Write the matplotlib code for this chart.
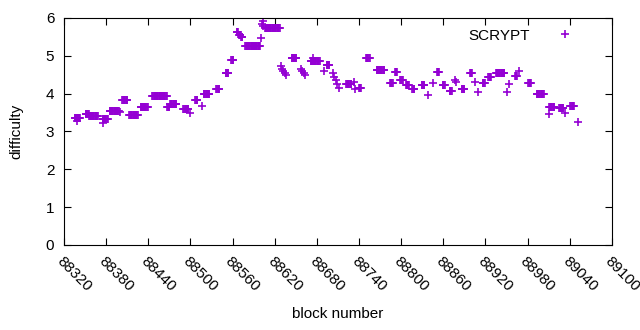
import numpy as np
import matplotlib
matplotlib.use("Agg")
import matplotlib.pyplot as plt

plt.rcParams["font.family"] = ["Liberation Sans", "DejaVu Sans"]

# difficulty stays constant over runs of blocks: (first block, last block, difficulty)
run_start = [88335, 88339, 88351, 88356, 88375, 88376, 88385, 88400, 88403, 88413, 88429,
             88446, 88467, 88471, 88490, 88499, 88507, 88516, 88519, 88537, 88550, 88558,
             88566, 88569, 88572, 88578, 88600, 88602, 88603, 88604, 88606, 88629, 88630,
             88632, 88634, 88636, 88644, 88657, 88659, 88661, 88663, 88671, 88674, 88690,
             88694, 88703, 88705, 88707, 88709, 88711, 88722, 88733, 88734, 88740, 88750,
             88765, 88784, 88791, 88799, 88807, 88816, 88829, 88838, 88845, 88851, 88859,
             88869, 88877, 88878, 88886, 88898, 88905, 88909, 88916, 88924, 88935, 88951,
             88953, 88962, 88968, 88981, 88993, 89010, 89011, 89025, 89033, 89041, 89052]
run_end = [88343, 88339, 88355, 88368, 88382, 88376, 88398, 88400, 88410, 88425, 88439,
           88466, 88470, 88480, 88497, 88499, 88510, 88516, 88527, 88541, 88554, 88561,
           88568, 88571, 88574, 88599, 88600, 88602, 88603, 88604, 88627, 88629, 88630,
           88632, 88634, 88636, 88651, 88657, 88659, 88661, 88663, 88684, 88674, 88690,
           88698, 88703, 88705, 88707, 88709, 88711, 88729, 88733, 88734, 88743, 88755,
           88776, 88788, 88794, 88802, 88811, 88819, 88833, 88838, 88845, 88854, 88862,
           88872, 88877, 88878, 88890, 88901, 88905, 88909, 88919, 88928, 88947, 88951,
           88953, 88965, 88968, 88985, 89003, 89010, 89018, 89031, 89033, 89046, 89052]
run_diff = [3.36, 3.28, 3.45, 3.42, 3.33, 3.23, 3.53, 3.52, 3.82, 3.43, 3.66,
            3.93, 3.65, 3.73, 3.60, 3.48, 3.84, 3.68, 4.00, 4.13, 4.54, 4.88,
            5.62, 5.55, 5.50, 5.26, 5.47, 5.85, 5.92, 5.78, 5.73, 4.72, 4.65,
            4.60, 4.55, 4.50, 4.93, 4.65, 4.60, 4.55, 4.50, 4.86, 4.95, 4.60,
            4.77, 4.55, 4.45, 4.35, 4.25, 4.15, 4.26, 4.30, 4.12, 4.16, 4.95,
            4.63, 4.27, 4.58, 4.37, 4.22, 4.12, 4.22, 3.97, 4.28, 4.57, 4.22,
            4.06, 4.36, 4.30, 4.12, 4.54, 4.30, 4.05, 4.28, 4.45, 4.55, 4.04,
            4.26, 4.47, 4.60, 4.29, 3.99, 3.47, 3.66, 3.61, 3.50, 3.67, 3.24]

xtick_vals = list(range(88320, 89101, 60))

blocks = np.concatenate([np.arange(s, e + 1) for s, e in zip(run_start, run_end)])
diffs = np.concatenate([np.full(e - s + 1, d) for s, e, d in zip(run_start, run_end, run_diff)])

fig = plt.figure(figsize=(6.4, 3.3), dpi=100)
ax = fig.add_axes([0.1, 0.2576, 0.856, 0.6879])

ax.plot(blocks, diffs, ls="none", marker="+", ms=5.6, mew=1.2,
        color="#9400d3", label="SCRYPT")

ax.set_xlim(88320, 89100)
ax.set_ylim(0, 6)
ax.set_xticks(xtick_vals)
ax.set_xticklabels([str(v) for v in xtick_vals], rotation=-45, ha="left", va="top",
                   rotation_mode="anchor")
ax.set_yticks(range(7))
ax.tick_params(direction="in", top=True, right=True, labelsize=11, length=5, pad=7)
ax.tick_params(axis="x", pad=7)

ax.set_xlabel("block number", fontsize=11, labelpad=9)
ax.set_ylabel("difficulty", fontsize=11, labelpad=16)

ax.legend(loc="upper right", frameon=False, markerfirst=False, fontsize=11,
          handlelength=3.0, borderaxespad=0.3, bbox_to_anchor=(0.975, 1.0))

fig.savefig("out.png", dpi=100)
